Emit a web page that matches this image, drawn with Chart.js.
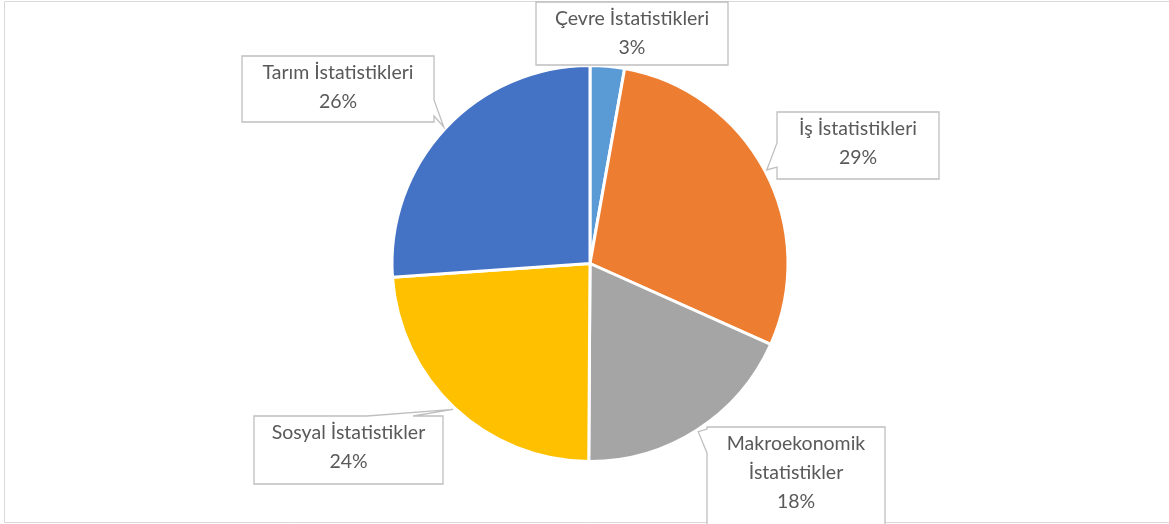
<!DOCTYPE html>
<html>
<head>
<meta charset="utf-8">
<script src="https://cdn.jsdelivr.net/npm/chart.js@4.4.1/dist/chart.umd.min.js"></script>
<style>
  html, body { margin: 0; padding: 0; background: #ffffff; }
  #wrap { width: 1169px; height: 524px; position: relative; }
</style>
</head>
<body>
<div id="wrap"><canvas id="c" width="1169" height="524"></canvas></div>
<script>
// ---- data ----
const categories = ["Çevre İstatistikleri", "İş İstatistikleri", "Makroekonomik İstatistikler", "Sosyal İstatistikler", "Tarım İstatistikleri"];
const values = [2.8, 28.9, 18.4, 23.8, 26.1];
const colors = ["#5B9BD5", "#ED7D31", "#A5A5A5", "#FFC000", "#4472C4"];

// ---- label box layout (x, y, w, h, pointer side, pointer base a..b) ----
const boxes = [
  { x: 536, y: 2,   w: 192, h: 63,  side: null },
  { x: 777, y: 112, w: 162, h: 67,  side: 'left',  a: 143, b: 167 },
  { x: 707, y: 427, w: 178, h: 110, side: 'left',  a: 429, b: 453 },
  { x: 254, y: 416, w: 189, h: 68,  side: 'top',   a: 367, b: 413 },
  { x: 242, y: 56,  w: 192, h: 66,  side: 'right', a: 100, b: 116 }
];

const FONT = '19.5px Lato, "Noto Sans", sans-serif';

function wrapText(ctx, text, maxW) {
  const words = text.split(' ');
  const lines = [];
  let cur = '';
  for (const w of words) {
    const t = cur ? cur + ' ' + w : w;
    if (ctx.measureText(t).width > maxW && cur) { lines.push(cur); cur = w; }
    else cur = t;
  }
  if (cur) lines.push(cur);
  return lines;
}

const calloutPlugin = {
  id: 'callouts',
  afterDraw(chart) {
    const ctx = chart.ctx;
    const meta = chart.getDatasetMeta(0);
    const total = values.reduce((s, v) => s + v, 0);
    ctx.save();
    // outer frame
    ctx.strokeStyle = '#d9d9d9';
    ctx.lineWidth = 1;
    ctx.beginPath();
    ctx.moveTo(4.5, 523); ctx.lineTo(4.5, 1.5); ctx.lineTo(1169, 1.5);
    ctx.moveTo(4.5, 522.5); ctx.lineTo(1169, 522.5);
    ctx.stroke();

    ctx.font = FONT;
    meta.data.forEach((arc, i) => {
      const bx = boxes[i];
      const mid = (arc.startAngle + arc.endAngle) / 2;
      const r = arc.outerRadius + 2;
      const tx = arc.x + Math.cos(mid) * r;
      const ty = arc.y + Math.sin(mid) * r;
      const { x, y, w, h, side, a, b } = bx;
      ctx.beginPath();
      ctx.moveTo(x, y);
      if (side === 'top') { ctx.lineTo(a, y); ctx.lineTo(tx, ty); ctx.lineTo(b, y); }
      ctx.lineTo(x + w, y);
      if (side === 'right') { ctx.lineTo(x + w, a); ctx.lineTo(tx, ty); ctx.lineTo(x + w, b); }
      ctx.lineTo(x + w, y + h);
      if (side === 'bottom') { ctx.lineTo(b, y + h); ctx.lineTo(tx, ty); ctx.lineTo(a, y + h); }
      ctx.lineTo(x, y + h);
      if (side === 'left') { ctx.lineTo(x, b); ctx.lineTo(tx, ty); ctx.lineTo(x, a); }
      ctx.closePath();
      ctx.fillStyle = '#ffffff';
      ctx.fill();
      ctx.strokeStyle = '#bfbfbf';
      ctx.lineWidth = 1.3;
      ctx.stroke();

      const lines = wrapText(ctx, categories[i], w - 8);
      lines.push(Math.round(values[i] / total * 100) + '%');
      ctx.fillStyle = '#595959';
      ctx.textAlign = 'center';
      ctx.textBaseline = 'middle';
      lines.forEach((ln, k) => {
        ctx.fillText(ln, x + w / 2, y + 17 + k * 29);
      });
    });
    ctx.restore();
  }
};

new Chart(document.getElementById('c'), {
  type: 'pie',
  data: {
    labels: categories,
    datasets: [{
      data: values,
      backgroundColor: colors,
      borderColor: '#ffffff',
      borderWidth: 3,
      hoverBorderWidth: 3,
      hoverOffset: 0
    }]
  },
  options: {
    responsive: false,
    animation: false,
    layout: { padding: { top: 64, bottom: 61, left: 200, right: 189 } },
    plugins: {
      legend: { display: false },
      tooltip: { enabled: false },
      title: { display: false }
    }
  },
  plugins: [calloutPlugin]
});
</script>
</body>
</html>
